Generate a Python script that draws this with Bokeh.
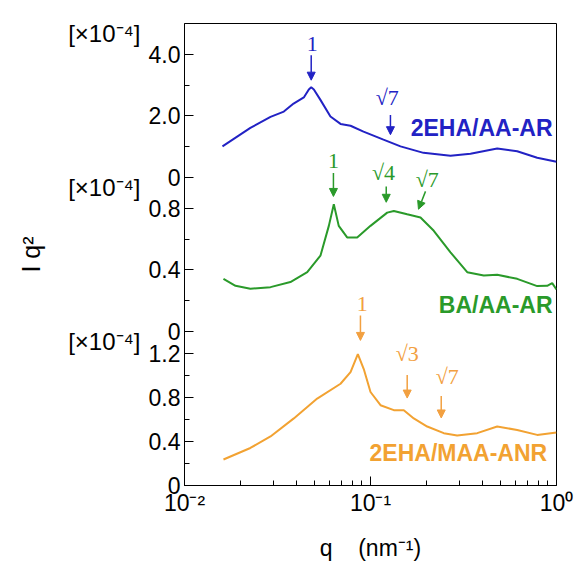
from bokeh.plotting import figure
from bokeh.models import Range1d, FixedTicker, Label, Arrow, NormalHead, LinearAxis
from bokeh.embed import file_html
from bokeh.resources import INLINE

# ---------------- data (I q^2 in units of 1e-4) ----------------
q_blue = [0.0160, 0.0226, 0.0290, 0.0342, 0.0386, 0.0438, 0.0466, 0.0480, 0.0496,
          0.0538, 0.0609, 0.0690, 0.0781, 0.0917, 0.1174, 0.1450, 0.1927, 0.2692,
          0.3448, 0.4799, 0.6147, 0.7874, 1.0]
i_blue = [1.01, 1.61, 1.97, 2.14, 2.40, 2.60, 2.86, 2.93, 2.86,
          2.52, 1.98, 1.74, 1.68, 1.49, 1.23, 1.01, 0.80, 0.71,
          0.77, 0.94, 0.85, 0.64, 0.51]

q_green = [0.0162, 0.0188, 0.0226, 0.0290, 0.0371, 0.0457, 0.0538, 0.0597, 0.0635,
           0.0675, 0.0749, 0.0848, 0.1000, 0.1230, 0.1335, 0.1575, 0.1857, 0.2189,
           0.2692, 0.3311, 0.4065, 0.4799, 0.6147, 0.7874, 0.8910, 0.9480, 1.0]
i_green = [0.342, 0.297, 0.277, 0.288, 0.321, 0.385, 0.492, 0.686, 0.826,
           0.686, 0.611, 0.611, 0.686, 0.772, 0.783, 0.761, 0.740, 0.654,
           0.514, 0.385, 0.363, 0.368, 0.342, 0.295, 0.297, 0.314, 0.273]

q_orange = [0.0162, 0.0226, 0.0290, 0.0387, 0.0517, 0.0690, 0.0781, 0.0855, 0.0920,
            0.1000, 0.1132, 0.1335, 0.1510, 0.1709, 0.2018, 0.2477, 0.2924, 0.3748,
            0.4799, 0.6147, 0.7874, 1.0]
i_orange = [0.236, 0.341, 0.446, 0.610, 0.790, 0.925, 1.030, 1.194, 1.059,
            0.850, 0.730, 0.685, 0.685, 0.610, 0.536, 0.476, 0.455, 0.476,
            0.536, 0.505, 0.460, 0.482]

# x axis ticks
x_major = [0.01, 0.1, 1.0]
x_major_labels = ["10\u207b\u00b2", "10\u207b\u00b9", "10\u2070"]
x_minor = [0.02, 0.03, 0.04, 0.05, 0.06, 0.07, 0.08, 0.09,
           0.2, 0.3, 0.4, 0.5, 0.6, 0.7, 0.8, 0.9]

# panel definitions: name, max value, major ticks, minor ticks, major labels
panels = [
    ("bot", 1.4, [0, 0.4, 0.8, 1.2], [0.2, 0.6, 1.0], ["0", "0.4", "0.8", "1.2"]),
    ("mid", 1.0, [0, 0.4, 0.8], [0.2, 0.6], ["0", "0.4", "0.8"]),
    ("top", 5.0, [0, 2.0, 4.0], [1.0, 3.0], ["0", "2.0", "4.0"]),
]
scale_label = "[\u00d710\u207b\u2074]"

series = [
    ("top", q_blue, i_blue, "#2222c4", "2EHA/AA-AR", 1.61, 0.952),
    ("mid", q_green, i_green, "#2a9a2a", "BA/AA-AR", 0.17, 0.952),
    ("bot", q_orange, i_orange, "#f2a232", "2EHA/MAA-ANR", 0.298, 0.891),
]

# peak markers: range, label, label q, label y, arrow q start, y start, q end, y end
markers = [
    ("top", "1", 0.0486, 4.35, 0.048, 3.97, 0.048, 3.16),
    ("top", "\u221a7", 0.123, 2.61, 0.128, 2.03, 0.128, 1.39),
    ("mid", "1", 0.0632, 1.11, 0.0632, 1.03, 0.0632, 0.877),
    ("mid", "\u221a4", 0.1174, 1.03, 0.1215, 0.942, 0.1215, 0.839),
    ("mid", "\u221a7", 0.2018, 0.987, 0.1976, 0.910, 0.1811, 0.794),
    ("bot", "1", 0.0902, 1.653, 0.0883, 1.545, 0.0883, 1.319),
    ("bot", "\u221a3", 0.1575, 1.201, 0.1575, 1.005, 0.1575, 0.795),
    ("bot", "\u221a7", 0.2585, 0.994, 0.240, 0.813, 0.240, 0.614),
]
marker_colors = {"top": "#2222c4", "mid": "#2a9a2a", "bot": "#f2a040"}

p = figure(width=583, height=563, x_axis_type="log", x_range=Range1d(0.01, 1.0),
           y_range=Range1d(0, 3), output_backend="svg", toolbar_location=None,
           min_border_left=184, min_border_right=27, min_border_top=23,
           min_border_bottom=75)
p.xgrid.visible = False
p.ygrid.visible = False
p.outline_line_color = "black"
p.outline_line_alpha = 1.0
p.outline_line_width = 1
p.background_fill_color = "white"
p.border_fill_color = "white"

npan = len(panels)
extra = {}
major, minor, overrides = [], [], {}
scale_ticks, scale_over = [], {}
for i, (name, vmax, maj, mino, labs) in enumerate(panels):
    extra[name] = Range1d(-i * vmax, (npan - i) * vmax)
    for v, lab in zip(maj, labs):
        t = round(i + v / vmax, 6)
        major.append(t)
        overrides[t] = lab
    for v in mino:
        minor.append(round(i + v / vmax, 6))
    st = round(i + 1 - 0.065, 6)
    scale_ticks.append(st)
    scale_over[st] = scale_label
p.extra_y_ranges = extra

yax = p.yaxis[0]
yax.ticker = FixedTicker(ticks=major, minor_ticks=minor)
yax.major_label_overrides = overrides

# outer left axis carrying the "[x10^-4]" scale labels and the axis title
sax = LinearAxis(ticker=FixedTicker(ticks=scale_ticks, minor_ticks=[]),
                 major_label_overrides=scale_over)
sax.axis_line_color = None
sax.major_tick_line_color = None
sax.minor_tick_line_color = None
sax.major_tick_in = 0
sax.major_tick_out = 0
sax.major_label_standoff = 5
sax.major_label_text_font = "Liberation Sans"
sax.major_label_text_font_size = "24px"
sax.major_label_text_color = "black"
sax.axis_label = "I q\u00b2"
sax.axis_label_standoff = 20
sax.axis_label_text_font = "Liberation Sans"
sax.axis_label_text_font_style = "normal"
sax.axis_label_text_font_size = "25px"
sax.axis_label_text_color = "black"
p.add_layout(sax, "left")

xax = p.xaxis[0]
xax.ticker = FixedTicker(ticks=x_major, minor_ticks=x_minor)
xax.major_label_overrides = dict(zip(x_major, x_major_labels))
xax.axis_label = "q\u00a0\u00a0\u00a0\u00a0(nm\u207b\u00b9)"
xax.axis_label_standoff = 16

for ax in (xax, yax):
    ax.major_tick_in = 9
    ax.major_tick_out = 0
    ax.minor_tick_in = 5
    ax.minor_tick_out = 0
    ax.axis_line_color = "black"
    ax.major_tick_line_color = "black"
    ax.minor_tick_line_color = "black"
    ax.major_label_text_font = "Liberation Sans"
    ax.major_label_text_color = "black"
    ax.major_label_standoff = 4
    ax.axis_label_text_font = "Liberation Sans"
    ax.axis_label_text_font_style = "normal"
    ax.axis_label_text_color = "black"
yax.major_label_text_font_size = "23px"
xax.major_label_text_font_size = "23px"
xax.axis_label_text_font_size = "23px"

for rng, qs, vals, color, lab, ly, lx in series:
    p.line(qs, vals, line_color=color, line_width=2, y_range_name=rng)
    p.add_layout(Label(x=lx, y=ly, text=lab, y_range_name=rng, text_align="right",
                       text_baseline="middle", text_font="Liberation Sans",
                       text_font_style="bold", text_font_size="23px", text_color=color))

for rng, lab, lq, lv, xs, ys, xe, ye in markers:
    c = marker_colors[rng]
    p.add_layout(Label(x=lq, y=lv, text=lab, y_range_name=rng, text_align="center",
                       text_baseline="middle", text_font="Liberation Serif",
                       text_font_size="22px", text_color=c))
    p.add_layout(Arrow(x_start=xs, y_start=ys, x_end=xe, y_end=ye, y_range_name=rng,
                       line_color=c, line_width=1.5,
                       end=NormalHead(size=8, fill_color=c, line_color=c, line_width=1)))

open("out.html", "w").write(file_html(p, INLINE))
